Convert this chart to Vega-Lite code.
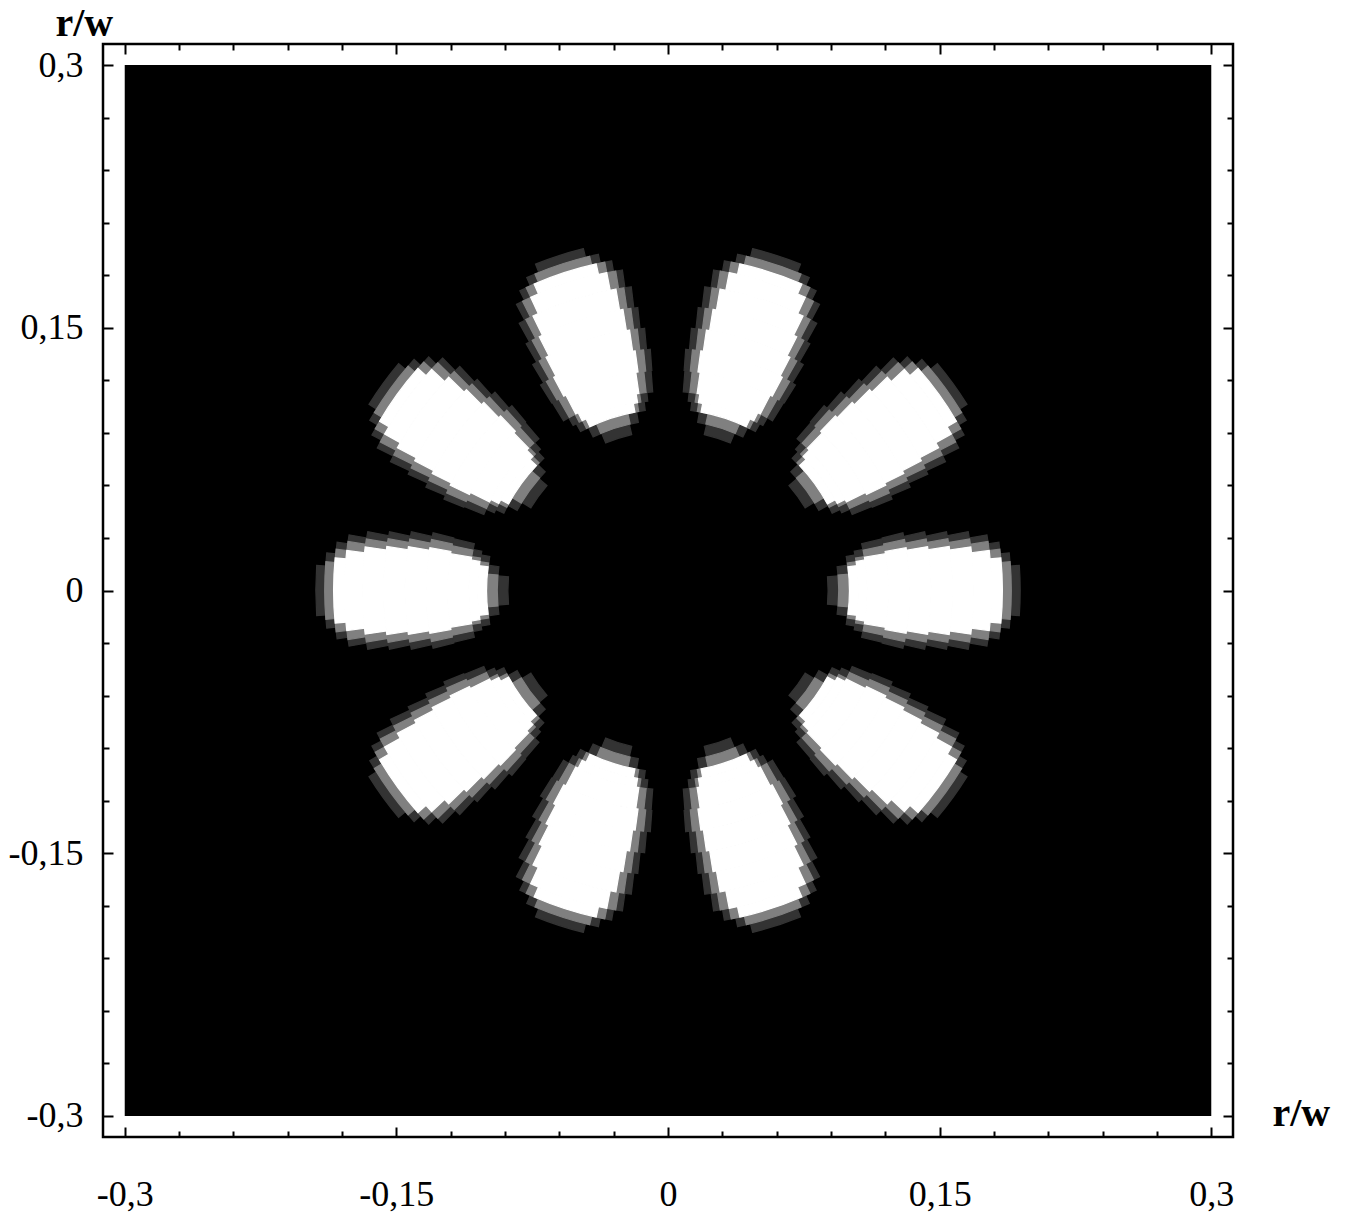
{
"$schema":"https://vega.github.io/schema/vega-lite/v6.json",
"width":1130,"height":1093,
"autosize":{"type":"none"},
"padding":{"left":103,"top":44,"right":116,"bottom":87},
"background":"white",
"config":{"view":{"stroke":"black","strokeWidth":2.5},"axis":{"grid":false,"labelFont":"Liberation Serif","titleFont":"Liberation Serif","labelColor":"black","titleColor":"black"}},
"datasets":{
"bg":[{"x1":-0.3,"x2":0.3,"y1":-0.3,"y2":0.3}],
"lobes":[
{"t":13.1,"u":22.9,"r":0.09,"s":0.096,"l":1},{"t":10.0,"u":26.0,"r":0.096,"s":0.102,"l":1},{"t":7.2,"u":28.8,"r":0.102,"s":0.107,"l":1},{"t":6.1,"u":29.9,"r":0.107,"s":0.112,"l":1},{"t":4.4,"u":31.6,"r":0.112,"s":0.124,"l":1},{"t":4.2,"u":31.8,"r":0.124,"s":0.136,"l":1},{"t":5.1,"u":30.9,"r":0.136,"s":0.148,"l":1},{"t":6.1,"u":29.9,"r":0.148,"s":0.16,"l":1},{"t":6.9,"u":29.1,"r":0.16,"s":0.172,"l":1},{"t":8.1,"u":27.9,"r":0.172,"s":0.182,"l":1},{"t":9.7,"u":26.3,"r":0.182,"s":0.188,"l":1},{"t":11.7,"u":24.3,"r":0.188,"s":0.193,"l":1},{"t":13.9,"u":22.1,"r":0.193,"s":0.198,"l":1},
{"t":12.8,"u":23.2,"r":0.096,"s":0.102,"l":2},{"t":9.3,"u":26.7,"r":0.102,"s":0.107,"l":2},{"t":8.2,"u":27.8,"r":0.107,"s":0.112,"l":2},{"t":6.3,"u":29.7,"r":0.112,"s":0.124,"l":2},{"t":5.8,"u":30.2,"r":0.124,"s":0.136,"l":2},{"t":6.7,"u":29.3,"r":0.136,"s":0.148,"l":2},{"t":7.5,"u":28.5,"r":0.148,"s":0.16,"l":2},{"t":8.3,"u":27.7,"r":0.16,"s":0.172,"l":2},{"t":9.3,"u":26.7,"r":0.172,"s":0.182,"l":2},{"t":10.9,"u":25.1,"r":0.182,"s":0.188,"l":2},{"t":13.2,"u":22.8,"r":0.188,"s":0.193,"l":2},
{"t":10.5,"u":25.5,"r":0.102,"s":0.107,"l":3},{"t":9.2,"u":26.8,"r":0.107,"s":0.112,"l":3},{"t":8.4,"u":27.6,"r":0.112,"s":0.124,"l":3},{"t":7.8,"u":28.2,"r":0.124,"s":0.136,"l":3},{"t":8.4,"u":27.6,"r":0.136,"s":0.148,"l":3},{"t":9.1,"u":26.9,"r":0.148,"s":0.16,"l":3},{"t":9.8,"u":26.2,"r":0.16,"s":0.172,"l":3},{"t":10.9,"u":25.1,"r":0.172,"s":0.182,"l":3},{"t":12.4,"u":23.6,"r":0.182,"s":0.188,"l":3},

{"t":49.1,"u":58.9,"r":0.09,"s":0.096,"l":1},{"t":46.0,"u":62.0,"r":0.096,"s":0.102,"l":1},{"t":43.2,"u":64.8,"r":0.102,"s":0.107,"l":1},{"t":42.1,"u":65.9,"r":0.107,"s":0.112,"l":1},{"t":40.4,"u":67.6,"r":0.112,"s":0.124,"l":1},{"t":40.2,"u":67.8,"r":0.124,"s":0.136,"l":1},{"t":41.1,"u":66.9,"r":0.136,"s":0.148,"l":1},{"t":42.1,"u":65.9,"r":0.148,"s":0.16,"l":1},{"t":42.9,"u":65.1,"r":0.16,"s":0.172,"l":1},{"t":44.1,"u":63.9,"r":0.172,"s":0.182,"l":1},{"t":45.7,"u":62.3,"r":0.182,"s":0.188,"l":1},{"t":47.7,"u":60.3,"r":0.188,"s":0.193,"l":1},{"t":49.9,"u":58.1,"r":0.193,"s":0.198,"l":1},
{"t":48.8,"u":59.2,"r":0.096,"s":0.102,"l":2},{"t":45.3,"u":62.7,"r":0.102,"s":0.107,"l":2},{"t":44.2,"u":63.8,"r":0.107,"s":0.112,"l":2},{"t":42.3,"u":65.7,"r":0.112,"s":0.124,"l":2},{"t":41.8,"u":66.2,"r":0.124,"s":0.136,"l":2},{"t":42.7,"u":65.3,"r":0.136,"s":0.148,"l":2},{"t":43.5,"u":64.5,"r":0.148,"s":0.16,"l":2},{"t":44.3,"u":63.7,"r":0.16,"s":0.172,"l":2},{"t":45.3,"u":62.7,"r":0.172,"s":0.182,"l":2},{"t":46.9,"u":61.1,"r":0.182,"s":0.188,"l":2},{"t":49.2,"u":58.8,"r":0.188,"s":0.193,"l":2},
{"t":46.5,"u":61.5,"r":0.102,"s":0.107,"l":3},{"t":45.2,"u":62.8,"r":0.107,"s":0.112,"l":3},{"t":44.4,"u":63.6,"r":0.112,"s":0.124,"l":3},{"t":43.8,"u":64.2,"r":0.124,"s":0.136,"l":3},{"t":44.4,"u":63.6,"r":0.136,"s":0.148,"l":3},{"t":45.1,"u":62.9,"r":0.148,"s":0.16,"l":3},{"t":45.8,"u":62.2,"r":0.16,"s":0.172,"l":3},{"t":46.9,"u":61.1,"r":0.172,"s":0.182,"l":3},{"t":48.4,"u":59.6,"r":0.182,"s":0.188,"l":3},

{"t":85.1,"u":94.9,"r":0.09,"s":0.096,"l":1},{"t":82.0,"u":98.0,"r":0.096,"s":0.102,"l":1},{"t":79.2,"u":100.8,"r":0.102,"s":0.107,"l":1},{"t":78.1,"u":101.9,"r":0.107,"s":0.112,"l":1},{"t":76.4,"u":103.6,"r":0.112,"s":0.124,"l":1},{"t":76.2,"u":103.8,"r":0.124,"s":0.136,"l":1},{"t":77.1,"u":102.9,"r":0.136,"s":0.148,"l":1},{"t":78.1,"u":101.9,"r":0.148,"s":0.16,"l":1},{"t":78.9,"u":101.1,"r":0.16,"s":0.172,"l":1},{"t":80.1,"u":99.9,"r":0.172,"s":0.182,"l":1},{"t":81.7,"u":98.3,"r":0.182,"s":0.188,"l":1},{"t":83.7,"u":96.3,"r":0.188,"s":0.193,"l":1},{"t":85.9,"u":94.1,"r":0.193,"s":0.198,"l":1},
{"t":84.8,"u":95.2,"r":0.096,"s":0.102,"l":2},{"t":81.3,"u":98.7,"r":0.102,"s":0.107,"l":2},{"t":80.2,"u":99.8,"r":0.107,"s":0.112,"l":2},{"t":78.3,"u":101.7,"r":0.112,"s":0.124,"l":2},{"t":77.8,"u":102.2,"r":0.124,"s":0.136,"l":2},{"t":78.7,"u":101.3,"r":0.136,"s":0.148,"l":2},{"t":79.5,"u":100.5,"r":0.148,"s":0.16,"l":2},{"t":80.3,"u":99.7,"r":0.16,"s":0.172,"l":2},{"t":81.3,"u":98.7,"r":0.172,"s":0.182,"l":2},{"t":82.9,"u":97.1,"r":0.182,"s":0.188,"l":2},{"t":85.2,"u":94.8,"r":0.188,"s":0.193,"l":2},
{"t":82.5,"u":97.5,"r":0.102,"s":0.107,"l":3},{"t":81.2,"u":98.8,"r":0.107,"s":0.112,"l":3},{"t":80.4,"u":99.6,"r":0.112,"s":0.124,"l":3},{"t":79.8,"u":100.2,"r":0.124,"s":0.136,"l":3},{"t":80.4,"u":99.6,"r":0.136,"s":0.148,"l":3},{"t":81.1,"u":98.9,"r":0.148,"s":0.16,"l":3},{"t":81.8,"u":98.2,"r":0.16,"s":0.172,"l":3},{"t":82.9,"u":97.1,"r":0.172,"s":0.182,"l":3},{"t":84.4,"u":95.6,"r":0.182,"s":0.188,"l":3},

{"t":121.1,"u":130.9,"r":0.09,"s":0.096,"l":1},{"t":118.0,"u":134.0,"r":0.096,"s":0.102,"l":1},{"t":115.2,"u":136.8,"r":0.102,"s":0.107,"l":1},{"t":114.1,"u":137.9,"r":0.107,"s":0.112,"l":1},{"t":112.4,"u":139.6,"r":0.112,"s":0.124,"l":1},{"t":112.2,"u":139.8,"r":0.124,"s":0.136,"l":1},{"t":113.1,"u":138.9,"r":0.136,"s":0.148,"l":1},{"t":114.1,"u":137.9,"r":0.148,"s":0.16,"l":1},{"t":114.9,"u":137.1,"r":0.16,"s":0.172,"l":1},{"t":116.1,"u":135.9,"r":0.172,"s":0.182,"l":1},{"t":117.7,"u":134.3,"r":0.182,"s":0.188,"l":1},{"t":119.7,"u":132.3,"r":0.188,"s":0.193,"l":1},{"t":121.9,"u":130.1,"r":0.193,"s":0.198,"l":1},
{"t":120.8,"u":131.2,"r":0.096,"s":0.102,"l":2},{"t":117.3,"u":134.7,"r":0.102,"s":0.107,"l":2},{"t":116.2,"u":135.8,"r":0.107,"s":0.112,"l":2},{"t":114.3,"u":137.7,"r":0.112,"s":0.124,"l":2},{"t":113.8,"u":138.2,"r":0.124,"s":0.136,"l":2},{"t":114.7,"u":137.3,"r":0.136,"s":0.148,"l":2},{"t":115.5,"u":136.5,"r":0.148,"s":0.16,"l":2},{"t":116.3,"u":135.7,"r":0.16,"s":0.172,"l":2},{"t":117.3,"u":134.7,"r":0.172,"s":0.182,"l":2},{"t":118.9,"u":133.1,"r":0.182,"s":0.188,"l":2},{"t":121.2,"u":130.8,"r":0.188,"s":0.193,"l":2},
{"t":118.5,"u":133.5,"r":0.102,"s":0.107,"l":3},{"t":117.2,"u":134.8,"r":0.107,"s":0.112,"l":3},{"t":116.4,"u":135.6,"r":0.112,"s":0.124,"l":3},{"t":115.8,"u":136.2,"r":0.124,"s":0.136,"l":3},{"t":116.4,"u":135.6,"r":0.136,"s":0.148,"l":3},{"t":117.1,"u":134.9,"r":0.148,"s":0.16,"l":3},{"t":117.8,"u":134.2,"r":0.16,"s":0.172,"l":3},{"t":118.9,"u":133.1,"r":0.172,"s":0.182,"l":3},{"t":120.4,"u":131.6,"r":0.182,"s":0.188,"l":3},

{"t":157.1,"u":166.9,"r":0.09,"s":0.096,"l":1},{"t":154.0,"u":170.0,"r":0.096,"s":0.102,"l":1},{"t":151.2,"u":172.8,"r":0.102,"s":0.107,"l":1},{"t":150.1,"u":173.9,"r":0.107,"s":0.112,"l":1},{"t":148.4,"u":175.6,"r":0.112,"s":0.124,"l":1},{"t":148.2,"u":175.8,"r":0.124,"s":0.136,"l":1},{"t":149.1,"u":174.9,"r":0.136,"s":0.148,"l":1},{"t":150.1,"u":173.9,"r":0.148,"s":0.16,"l":1},{"t":150.9,"u":173.1,"r":0.16,"s":0.172,"l":1},{"t":152.1,"u":171.9,"r":0.172,"s":0.182,"l":1},{"t":153.7,"u":170.3,"r":0.182,"s":0.188,"l":1},{"t":155.7,"u":168.3,"r":0.188,"s":0.193,"l":1},{"t":157.9,"u":166.1,"r":0.193,"s":0.198,"l":1},
{"t":156.8,"u":167.2,"r":0.096,"s":0.102,"l":2},{"t":153.3,"u":170.7,"r":0.102,"s":0.107,"l":2},{"t":152.2,"u":171.8,"r":0.107,"s":0.112,"l":2},{"t":150.3,"u":173.7,"r":0.112,"s":0.124,"l":2},{"t":149.8,"u":174.2,"r":0.124,"s":0.136,"l":2},{"t":150.7,"u":173.3,"r":0.136,"s":0.148,"l":2},{"t":151.5,"u":172.5,"r":0.148,"s":0.16,"l":2},{"t":152.3,"u":171.7,"r":0.16,"s":0.172,"l":2},{"t":153.3,"u":170.7,"r":0.172,"s":0.182,"l":2},{"t":154.9,"u":169.1,"r":0.182,"s":0.188,"l":2},{"t":157.2,"u":166.8,"r":0.188,"s":0.193,"l":2},
{"t":154.5,"u":169.5,"r":0.102,"s":0.107,"l":3},{"t":153.2,"u":170.8,"r":0.107,"s":0.112,"l":3},{"t":152.4,"u":171.6,"r":0.112,"s":0.124,"l":3},{"t":151.8,"u":172.2,"r":0.124,"s":0.136,"l":3},{"t":152.4,"u":171.6,"r":0.136,"s":0.148,"l":3},{"t":153.1,"u":170.9,"r":0.148,"s":0.16,"l":3},{"t":153.8,"u":170.2,"r":0.16,"s":0.172,"l":3},{"t":154.9,"u":169.1,"r":0.172,"s":0.182,"l":3},{"t":156.4,"u":167.6,"r":0.182,"s":0.188,"l":3},

{"t":193.1,"u":202.9,"r":0.09,"s":0.096,"l":1},{"t":190.0,"u":206.0,"r":0.096,"s":0.102,"l":1},{"t":187.2,"u":208.8,"r":0.102,"s":0.107,"l":1},{"t":186.1,"u":209.9,"r":0.107,"s":0.112,"l":1},{"t":184.4,"u":211.6,"r":0.112,"s":0.124,"l":1},{"t":184.2,"u":211.8,"r":0.124,"s":0.136,"l":1},{"t":185.1,"u":210.9,"r":0.136,"s":0.148,"l":1},{"t":186.1,"u":209.9,"r":0.148,"s":0.16,"l":1},{"t":186.9,"u":209.1,"r":0.16,"s":0.172,"l":1},{"t":188.1,"u":207.9,"r":0.172,"s":0.182,"l":1},{"t":189.7,"u":206.3,"r":0.182,"s":0.188,"l":1},{"t":191.7,"u":204.3,"r":0.188,"s":0.193,"l":1},{"t":193.9,"u":202.1,"r":0.193,"s":0.198,"l":1},
{"t":192.8,"u":203.2,"r":0.096,"s":0.102,"l":2},{"t":189.3,"u":206.7,"r":0.102,"s":0.107,"l":2},{"t":188.2,"u":207.8,"r":0.107,"s":0.112,"l":2},{"t":186.3,"u":209.7,"r":0.112,"s":0.124,"l":2},{"t":185.8,"u":210.2,"r":0.124,"s":0.136,"l":2},{"t":186.7,"u":209.3,"r":0.136,"s":0.148,"l":2},{"t":187.5,"u":208.5,"r":0.148,"s":0.16,"l":2},{"t":188.3,"u":207.7,"r":0.16,"s":0.172,"l":2},{"t":189.3,"u":206.7,"r":0.172,"s":0.182,"l":2},{"t":190.9,"u":205.1,"r":0.182,"s":0.188,"l":2},{"t":193.2,"u":202.8,"r":0.188,"s":0.193,"l":2},
{"t":190.5,"u":205.5,"r":0.102,"s":0.107,"l":3},{"t":189.2,"u":206.8,"r":0.107,"s":0.112,"l":3},{"t":188.4,"u":207.6,"r":0.112,"s":0.124,"l":3},{"t":187.8,"u":208.2,"r":0.124,"s":0.136,"l":3},{"t":188.4,"u":207.6,"r":0.136,"s":0.148,"l":3},{"t":189.1,"u":206.9,"r":0.148,"s":0.16,"l":3},{"t":189.8,"u":206.2,"r":0.16,"s":0.172,"l":3},{"t":190.9,"u":205.1,"r":0.172,"s":0.182,"l":3},{"t":192.4,"u":203.6,"r":0.182,"s":0.188,"l":3},

{"t":229.1,"u":238.9,"r":0.09,"s":0.096,"l":1},{"t":226.0,"u":242.0,"r":0.096,"s":0.102,"l":1},{"t":223.2,"u":244.8,"r":0.102,"s":0.107,"l":1},{"t":222.1,"u":245.9,"r":0.107,"s":0.112,"l":1},{"t":220.4,"u":247.6,"r":0.112,"s":0.124,"l":1},{"t":220.2,"u":247.8,"r":0.124,"s":0.136,"l":1},{"t":221.1,"u":246.9,"r":0.136,"s":0.148,"l":1},{"t":222.1,"u":245.9,"r":0.148,"s":0.16,"l":1},{"t":222.9,"u":245.1,"r":0.16,"s":0.172,"l":1},{"t":224.1,"u":243.9,"r":0.172,"s":0.182,"l":1},{"t":225.7,"u":242.3,"r":0.182,"s":0.188,"l":1},{"t":227.7,"u":240.3,"r":0.188,"s":0.193,"l":1},{"t":229.9,"u":238.1,"r":0.193,"s":0.198,"l":1},
{"t":228.8,"u":239.2,"r":0.096,"s":0.102,"l":2},{"t":225.3,"u":242.7,"r":0.102,"s":0.107,"l":2},{"t":224.2,"u":243.8,"r":0.107,"s":0.112,"l":2},{"t":222.3,"u":245.7,"r":0.112,"s":0.124,"l":2},{"t":221.8,"u":246.2,"r":0.124,"s":0.136,"l":2},{"t":222.7,"u":245.3,"r":0.136,"s":0.148,"l":2},{"t":223.5,"u":244.5,"r":0.148,"s":0.16,"l":2},{"t":224.3,"u":243.7,"r":0.16,"s":0.172,"l":2},{"t":225.3,"u":242.7,"r":0.172,"s":0.182,"l":2},{"t":226.9,"u":241.1,"r":0.182,"s":0.188,"l":2},{"t":229.2,"u":238.8,"r":0.188,"s":0.193,"l":2},
{"t":226.5,"u":241.5,"r":0.102,"s":0.107,"l":3},{"t":225.2,"u":242.8,"r":0.107,"s":0.112,"l":3},{"t":224.4,"u":243.6,"r":0.112,"s":0.124,"l":3},{"t":223.8,"u":244.2,"r":0.124,"s":0.136,"l":3},{"t":224.4,"u":243.6,"r":0.136,"s":0.148,"l":3},{"t":225.1,"u":242.9,"r":0.148,"s":0.16,"l":3},{"t":225.8,"u":242.2,"r":0.16,"s":0.172,"l":3},{"t":226.9,"u":241.1,"r":0.172,"s":0.182,"l":3},{"t":228.4,"u":239.6,"r":0.182,"s":0.188,"l":3},

{"t":265.1,"u":274.9,"r":0.09,"s":0.096,"l":1},{"t":262.0,"u":278.0,"r":0.096,"s":0.102,"l":1},{"t":259.2,"u":280.8,"r":0.102,"s":0.107,"l":1},{"t":258.1,"u":281.9,"r":0.107,"s":0.112,"l":1},{"t":256.4,"u":283.6,"r":0.112,"s":0.124,"l":1},{"t":256.2,"u":283.8,"r":0.124,"s":0.136,"l":1},{"t":257.1,"u":282.9,"r":0.136,"s":0.148,"l":1},{"t":258.1,"u":281.9,"r":0.148,"s":0.16,"l":1},{"t":258.9,"u":281.1,"r":0.16,"s":0.172,"l":1},{"t":260.1,"u":279.9,"r":0.172,"s":0.182,"l":1},{"t":261.7,"u":278.3,"r":0.182,"s":0.188,"l":1},{"t":263.7,"u":276.3,"r":0.188,"s":0.193,"l":1},{"t":265.9,"u":274.1,"r":0.193,"s":0.198,"l":1},
{"t":264.8,"u":275.2,"r":0.096,"s":0.102,"l":2},{"t":261.3,"u":278.7,"r":0.102,"s":0.107,"l":2},{"t":260.2,"u":279.8,"r":0.107,"s":0.112,"l":2},{"t":258.3,"u":281.7,"r":0.112,"s":0.124,"l":2},{"t":257.8,"u":282.2,"r":0.124,"s":0.136,"l":2},{"t":258.7,"u":281.3,"r":0.136,"s":0.148,"l":2},{"t":259.5,"u":280.5,"r":0.148,"s":0.16,"l":2},{"t":260.3,"u":279.7,"r":0.16,"s":0.172,"l":2},{"t":261.3,"u":278.7,"r":0.172,"s":0.182,"l":2},{"t":262.9,"u":277.1,"r":0.182,"s":0.188,"l":2},{"t":265.2,"u":274.8,"r":0.188,"s":0.193,"l":2},
{"t":262.5,"u":277.5,"r":0.102,"s":0.107,"l":3},{"t":261.2,"u":278.8,"r":0.107,"s":0.112,"l":3},{"t":260.4,"u":279.6,"r":0.112,"s":0.124,"l":3},{"t":259.8,"u":280.2,"r":0.124,"s":0.136,"l":3},{"t":260.4,"u":279.6,"r":0.136,"s":0.148,"l":3},{"t":261.1,"u":278.9,"r":0.148,"s":0.16,"l":3},{"t":261.8,"u":278.2,"r":0.16,"s":0.172,"l":3},{"t":262.9,"u":277.1,"r":0.172,"s":0.182,"l":3},{"t":264.4,"u":275.6,"r":0.182,"s":0.188,"l":3},

{"t":301.1,"u":310.9,"r":0.09,"s":0.096,"l":1},{"t":298.0,"u":314.0,"r":0.096,"s":0.102,"l":1},{"t":295.2,"u":316.8,"r":0.102,"s":0.107,"l":1},{"t":294.1,"u":317.9,"r":0.107,"s":0.112,"l":1},{"t":292.4,"u":319.6,"r":0.112,"s":0.124,"l":1},{"t":292.2,"u":319.8,"r":0.124,"s":0.136,"l":1},{"t":293.1,"u":318.9,"r":0.136,"s":0.148,"l":1},{"t":294.1,"u":317.9,"r":0.148,"s":0.16,"l":1},{"t":294.9,"u":317.1,"r":0.16,"s":0.172,"l":1},{"t":296.1,"u":315.9,"r":0.172,"s":0.182,"l":1},{"t":297.7,"u":314.3,"r":0.182,"s":0.188,"l":1},{"t":299.7,"u":312.3,"r":0.188,"s":0.193,"l":1},{"t":301.9,"u":310.1,"r":0.193,"s":0.198,"l":1},
{"t":300.8,"u":311.2,"r":0.096,"s":0.102,"l":2},{"t":297.3,"u":314.7,"r":0.102,"s":0.107,"l":2},{"t":296.2,"u":315.8,"r":0.107,"s":0.112,"l":2},{"t":294.3,"u":317.7,"r":0.112,"s":0.124,"l":2},{"t":293.8,"u":318.2,"r":0.124,"s":0.136,"l":2},{"t":294.7,"u":317.3,"r":0.136,"s":0.148,"l":2},{"t":295.5,"u":316.5,"r":0.148,"s":0.16,"l":2},{"t":296.3,"u":315.7,"r":0.16,"s":0.172,"l":2},{"t":297.3,"u":314.7,"r":0.172,"s":0.182,"l":2},{"t":298.9,"u":313.1,"r":0.182,"s":0.188,"l":2},{"t":301.2,"u":310.8,"r":0.188,"s":0.193,"l":2},
{"t":298.5,"u":313.5,"r":0.102,"s":0.107,"l":3},{"t":297.2,"u":314.8,"r":0.107,"s":0.112,"l":3},{"t":296.4,"u":315.6,"r":0.112,"s":0.124,"l":3},{"t":295.8,"u":316.2,"r":0.124,"s":0.136,"l":3},{"t":296.4,"u":315.6,"r":0.136,"s":0.148,"l":3},{"t":297.1,"u":314.9,"r":0.148,"s":0.16,"l":3},{"t":297.8,"u":314.2,"r":0.16,"s":0.172,"l":3},{"t":298.9,"u":313.1,"r":0.172,"s":0.182,"l":3},{"t":300.4,"u":311.6,"r":0.182,"s":0.188,"l":3},

{"t":337.1,"u":346.9,"r":0.09,"s":0.096,"l":1},{"t":334.0,"u":350.0,"r":0.096,"s":0.102,"l":1},{"t":331.2,"u":352.8,"r":0.102,"s":0.107,"l":1},{"t":330.1,"u":353.9,"r":0.107,"s":0.112,"l":1},{"t":328.4,"u":355.6,"r":0.112,"s":0.124,"l":1},{"t":328.2,"u":355.8,"r":0.124,"s":0.136,"l":1},{"t":329.1,"u":354.9,"r":0.136,"s":0.148,"l":1},{"t":330.1,"u":353.9,"r":0.148,"s":0.16,"l":1},{"t":330.9,"u":353.1,"r":0.16,"s":0.172,"l":1},{"t":332.1,"u":351.9,"r":0.172,"s":0.182,"l":1},{"t":333.7,"u":350.3,"r":0.182,"s":0.188,"l":1},{"t":335.7,"u":348.3,"r":0.188,"s":0.193,"l":1},{"t":337.9,"u":346.1,"r":0.193,"s":0.198,"l":1},
{"t":336.8,"u":347.2,"r":0.096,"s":0.102,"l":2},{"t":333.3,"u":350.7,"r":0.102,"s":0.107,"l":2},{"t":332.2,"u":351.8,"r":0.107,"s":0.112,"l":2},{"t":330.3,"u":353.7,"r":0.112,"s":0.124,"l":2},{"t":329.8,"u":354.2,"r":0.124,"s":0.136,"l":2},{"t":330.7,"u":353.3,"r":0.136,"s":0.148,"l":2},{"t":331.5,"u":352.5,"r":0.148,"s":0.16,"l":2},{"t":332.3,"u":351.7,"r":0.16,"s":0.172,"l":2},{"t":333.3,"u":350.7,"r":0.172,"s":0.182,"l":2},{"t":334.9,"u":349.1,"r":0.182,"s":0.188,"l":2},{"t":337.2,"u":346.8,"r":0.188,"s":0.193,"l":2},
{"t":334.5,"u":349.5,"r":0.102,"s":0.107,"l":3},{"t":333.2,"u":350.8,"r":0.107,"s":0.112,"l":3},{"t":332.4,"u":351.6,"r":0.112,"s":0.124,"l":3},{"t":331.8,"u":352.2,"r":0.124,"s":0.136,"l":3},{"t":332.4,"u":351.6,"r":0.136,"s":0.148,"l":3},{"t":333.1,"u":350.9,"r":0.148,"s":0.16,"l":3},{"t":333.8,"u":350.2,"r":0.16,"s":0.172,"l":3},{"t":334.9,"u":349.1,"r":0.172,"s":0.182,"l":3},{"t":336.4,"u":347.6,"r":0.182,"s":0.188,"l":3}
]},
"resolve":{"axis":{"x":"independent","y":"independent"}},
"layer":[
{"data":{"name":"bg"},"mark":{"type":"rect","color":"black"},
 "encoding":{
  "x":{"field":"x1","type":"quantitative","scale":{"domain":[-0.312,0.312],"nice":false,"zero":false},
       "axis":{"orient":"bottom","values":[-0.3,-0.15,0,0.15,0.3],"ticks":false,"domain":false,"labelFontSize":36,"labelPadding":40,"labelFlush":false,"labelExpr":"datum.value > 0.2 ? '0,3' : datum.value > 0.1 ? '0,15' : datum.value > -0.1 ? '0' : datum.value > -0.2 ? '-0,15' : '-0,3'",
               "title":"r/w","titleFontSize":40,"titleFontWeight":"bold","titleAngle":0,"titleAlign":"left","titleBaseline":"alphabetic","titleX":1169,"titleY":-12}},
  "x2":{"field":"x2"},
  "y":{"field":"y1","type":"quantitative","scale":{"domain":[-0.312,0.312],"nice":false,"zero":false},
       "axis":{"orient":"left","values":[-0.3,-0.15,0,0.15,0.3],"ticks":false,"domain":false,"labelFontSize":36,"labelPadding":20,"labelFlush":false,"labelExpr":"datum.value > 0.2 ? '0,3' : datum.value > 0.1 ? '0,15' : datum.value > -0.1 ? '0' : datum.value > -0.2 ? '-0,15' : '-0,3'",
               "title":"r/w","titleFontSize":40,"titleFontWeight":"bold","titleAngle":0,"titleAlign":"left","titleBaseline":"alphabetic","titleX":-48,"titleY":-9}},
  "y2":{"field":"y2"}}},
{"data":{"name":"bg"},"mark":{"type":"rect","opacity":0},
 "encoding":{
  "x":{"field":"x1","type":"quantitative","scale":{"domain":[-0.312,0.312],"nice":false,"zero":false},
       "axis":{"orient":"bottom","values":[-0.3,-0.15,0,0.15,0.3],"labels":false,"domain":false,"tickSize":-10,"tickWidth":2,"tickColor":"black","title":null}},
  "x2":{"field":"x2"},
  "y":{"field":"y1","type":"quantitative","scale":{"domain":[-0.312,0.312],"nice":false,"zero":false},
       "axis":{"orient":"left","values":[-0.3,-0.15,0,0.15,0.3],"labels":false,"domain":false,"tickSize":-10,"tickWidth":2,"tickColor":"black","title":null}},
  "y2":{"field":"y2"}}},
{"data":{"name":"bg"},"mark":{"type":"rect","opacity":0},
 "encoding":{
  "x":{"field":"x1","type":"quantitative","scale":{"domain":[-0.312,0.312],"nice":false,"zero":false},
       "axis":{"orient":"top","values":[-0.3,-0.15,0,0.15,0.3],"labels":false,"domain":false,"tickSize":-10,"tickWidth":2,"tickColor":"black","title":null}},
  "x2":{"field":"x2"},
  "y":{"field":"y1","type":"quantitative","scale":{"domain":[-0.312,0.312],"nice":false,"zero":false},
       "axis":{"orient":"right","values":[-0.3,-0.15,0,0.15,0.3],"labels":false,"domain":false,"tickSize":-10,"tickWidth":2,"tickColor":"black","title":null}},
  "y2":{"field":"y2"}}},
{"data":{"name":"bg"},"mark":{"type":"rect","opacity":0},
 "encoding":{
  "x":{"field":"x1","type":"quantitative","scale":{"domain":[-0.312,0.312],"nice":false,"zero":false},
       "axis":{"orient":"bottom","values":[-0.27,-0.24,-0.21,-0.18,-0.12,-0.09,-0.06,-0.03,0.03,0.06,0.09,0.12,0.18,0.21,0.24,0.27],"labels":false,"domain":false,"tickSize":-6,"tickWidth":2,"tickColor":"black","title":null}},
  "x2":{"field":"x2"},
  "y":{"field":"y1","type":"quantitative","scale":{"domain":[-0.312,0.312],"nice":false,"zero":false},
       "axis":{"orient":"left","values":[-0.27,-0.24,-0.21,-0.18,-0.12,-0.09,-0.06,-0.03,0.03,0.06,0.09,0.12,0.18,0.21,0.24,0.27],"labels":false,"domain":false,"tickSize":-6,"tickWidth":2,"tickColor":"black","title":null}},
  "y2":{"field":"y2"}}},
{"data":{"name":"bg"},"mark":{"type":"rect","opacity":0},
 "encoding":{
  "x":{"field":"x1","type":"quantitative","scale":{"domain":[-0.312,0.312],"nice":false,"zero":false},
       "axis":{"orient":"top","values":[-0.27,-0.24,-0.21,-0.18,-0.12,-0.09,-0.06,-0.03,0.03,0.06,0.09,0.12,0.18,0.21,0.24,0.27],"labels":false,"domain":false,"tickSize":-6,"tickWidth":2,"tickColor":"black","title":null}},
  "x2":{"field":"x2"},
  "y":{"field":"y1","type":"quantitative","scale":{"domain":[-0.312,0.312],"nice":false,"zero":false},
       "axis":{"orient":"right","values":[-0.27,-0.24,-0.21,-0.18,-0.12,-0.09,-0.06,-0.03,0.03,0.06,0.09,0.12,0.18,0.21,0.24,0.27],"labels":false,"domain":false,"tickSize":-6,"tickWidth":2,"tickColor":"black","title":null}},
  "y2":{"field":"y2"}}},
{"data":{"name":"lobes"},"mark":{"type":"arc","strokeWidth":1.2},
 "encoding":{
  "theta":{"field":"t","type":"quantitative","stack":null,"scale":{"domain":[0,360],"range":[0,6.283185307179586]}},
  "theta2":{"field":"u"},
  "radius":{"field":"r","type":"quantitative","scale":{"type":"linear","domain":[0,0.312],"range":[0,555],"zero":true}},
  "radius2":{"field":"s"},
  "color":{"field":"l","type":"ordinal","scale":{"domain":[1,2,3],"range":["#333333","#808080","#ffffff"]},"legend":null},
  "stroke":{"field":"l","type":"ordinal","scale":{"domain":[1,2,3],"range":["#333333","#808080","#ffffff"]},"legend":null}}}
]
}
